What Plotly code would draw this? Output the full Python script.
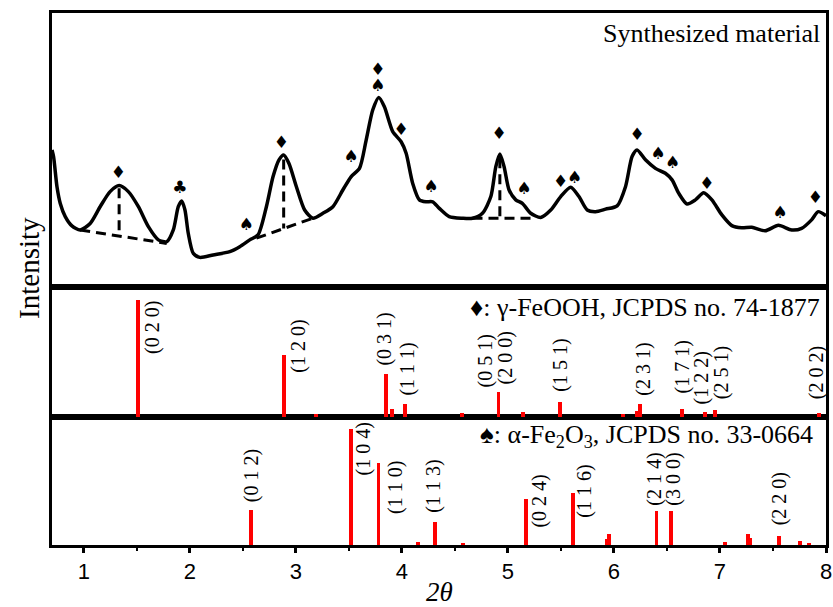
import plotly.graph_objects as go

# ---------------- data ----------------
# Synthesized material XRD pattern (2theta, relative intensity)
xrd_2theta = [0.700, 0.715, 0.747, 0.778, 0.825, 0.888, 0.966, 1.060, 1.154, 1.248,
              1.333, 1.420, 1.515, 1.609, 1.703, 1.782, 1.844, 1.891, 1.923, 1.954,
              1.985, 2.032, 2.095, 2.220, 2.377, 2.471, 2.565, 2.643, 2.722, 2.785,
              2.841, 2.885, 2.935, 3.005, 3.083, 3.161, 3.255, 3.349, 3.443, 3.522,
              3.600, 3.663, 3.725, 3.782, 3.835, 3.914, 3.993, 4.040, 4.102, 4.165,
              4.228, 4.290, 4.353, 4.446, 4.572, 4.666, 4.760, 4.839, 4.886, 4.924,
              4.964, 5.011, 5.074, 5.136, 5.215, 5.309, 5.404, 5.498, 5.592, 5.670,
              5.748, 5.827, 5.921, 6.030, 6.109, 6.171, 6.218, 6.297, 6.391, 6.485,
              6.548, 6.611, 6.689, 6.768, 6.846, 6.924, 7.018, 7.112, 7.206, 7.300,
              7.426, 7.551, 7.676, 7.770, 7.864, 7.927, 8.000]
xrd_intensity = [50.0, 47.5, 36.6, 30.5, 25.7, 22.3, 20.8, 23.2, 29.3, 34.8,
                 37.0, 34.8, 29.3, 22.0, 17.2, 16.5, 20.8, 29.3, 31.4, 28.1,
                 19.6, 12.3, 10.8, 11.7, 12.9, 14.7, 17.2, 19.0, 29.3, 40.3,
                 46.4, 48.2, 45.1, 36.6, 28.1, 25.1, 26.9, 29.3, 35.4, 40.3,
                 43.3, 53.6, 64.6, 69.2, 65.8, 56.7, 53.0, 48.8, 37.8, 31.8,
                 31.1, 31.1, 28.7, 25.7, 25.1, 25.1, 26.9, 33.0, 43.9, 48.5,
                 43.9, 35.4, 31.8, 30.5, 26.9, 25.4, 28.1, 33.0, 36.4, 33.0,
                 28.1, 27.5, 28.4, 29.6, 36.6, 47.6, 50.0, 46.4, 43.3, 41.5,
                 39.1, 34.2, 30.3, 31.8, 34.4, 31.8, 26.3, 22.4, 21.6, 21.8,
                 20.5, 22.5, 20.8, 21.4, 24.5, 27.5, 26.0]

# dashed baseline / peak-height guides
guide1_x = [0.966, 1.782, None, 1.333, 1.333]
guide1_y = [20.8, 15.9, None, 36.0, 18.6]
guide2_x = [2.628, 3.161, None, 2.885, 2.885]
guide2_y = [17.8, 25.1, None, 46.5, 21.3]
guide3_x = [4.666, 5.250, None, 4.924, 4.924]
guide3_y = [25.1, 25.1, None, 47.0, 25.1]

# phase markers over the peaks
mark_symbol = ["♦", "♣", "♠", "♦", "♠", "♦", "♠", "♦", "♠", "♦", "♠", "♦", "♠",
               "♦", "♠", "♠", "♦", "♠", "♦"]
mark_2theta = [1.327, 1.907, 2.534, 2.864, 3.522, 3.773, 3.773, 3.993, 4.275, 4.918,
               5.152, 5.498, 5.630, 6.218, 6.416, 6.554, 6.877, 7.567, 7.900]
mark_height = [41.2, 35.7, 22.3, 52.4, 47.0, 79.0, 73.2, 57.0, 36.4, 55.5,
               35.4, 38.1, 39.4, 55.1, 48.2, 44.8, 37.2, 26.9, 32.1]

# gamma-FeOOH reference, JCPDS 74-1877
feooh_2theta = [1.515, 2.888, 3.193, 3.854, 3.908, 4.033, 4.566, 4.911, 5.146, 5.494,
                6.084, 6.218, 6.250, 6.642, 6.855, 6.949, 7.934]
feooh_intensity = [90.0, 47.7, 2.3, 32.8, 5.9, 9.7, 2.8, 19.0, 4.0, 11.3,
                   2.3, 4.6, 9.7, 6.2, 3.8, 5.4, 2.8]
feooh_hkl = ["(0 2 0)", "(1 2 0)", "(0 3 1)", "(1 1 1)", "(0 5 1)", "(2 0 0)",
             "(1 5 1)", "(2 3 1)", "(1 7 1)", "(1 2 2)", "(2 5 1)", "(2 0 2)"]
feooh_hkl_2theta = [1.515, 2.888, 3.854, 4.033, 4.911, 4.911, 5.494, 6.250, 6.642,
                    6.855, 6.949, 7.934]

# alpha-Fe2O3 reference, JCPDS 33-0664
hem_2theta = [2.581, 3.522, 3.779, 4.149, 4.312, 4.572, 5.168, 5.613, 5.930, 5.950,
              6.401, 6.542, 7.050, 7.263, 7.285, 7.558, 7.756, 7.840]
hem_intensity = [27.3, 91.0, 63.8, 2.1, 17.7, 1.8, 36.0, 40.9, 4.4, 8.6,
                 26.8, 26.8, 2.1, 8.3, 5.2, 7.0, 3.1, 1.3]
hem_hkl = ["(0 1 2)", "(1 0 4)", "(1 1 0)", "(1 1 3)", "(0 2 4)", "(1 1 6)",
           "(2 1 4)", "(3 0 0)", "(2 2 0)"]
hem_hkl_2theta = [2.581, 3.522, 3.779, 4.312, 5.168, 5.613, 6.401, 6.542, 7.558]

x_ticks = [1, 2, 3, 4, 5, 6, 7, 8]

# ---------------- label placement (style, not data) ----------------
# (xshift px, y in panel units, yanchor)
feooh_label_pos = [(14, 90, "top"), (15, 76, "top"), (-2, 38.7, "bottom"),
                   (2, 15.6, "bottom"), (-12.6, 22.3, "bottom"), (7.4, 24.6, "bottom"),
                   (0, 18.5, "bottom"), (3, 15.6, "bottom"), (0, 17, "bottom"),
                   (-2.7, 9.2, "bottom"), (7, 13, "bottom"), (-2.4, 13, "bottom")]
hem_label_pos = [(0, 32.6, "bottom"), (12, 96.3, "top"), (17, 66.4, "top"),
                 (-1, 24.8, "bottom"), (14, 56, "top"), (12, 63.8, "top"),
                 (-2, 29.9, "bottom"), (2, 29.9, "bottom"), (0, 14.3, "bottom")]

SERIF = "Liberation Serif, Times New Roman, serif"
SANS = "Liberation Sans, Arial, sans-serif"
RED = "#ff0000"
FRAME_W = 3

fig = go.Figure()

# top panel
fig.add_trace(go.Scatter(x=xrd_2theta, y=xrd_intensity, mode="lines",
                         line=dict(color="black", width=3.5, shape="spline", smoothing=0.7),
                         xaxis="x3", yaxis="y3", hoverinfo="skip"))
for gx, gy in [(guide1_x, guide1_y), (guide2_x, guide2_y), (guide3_x, guide3_y)]:
    fig.add_trace(go.Scatter(x=gx, y=gy, mode="lines",
                             line=dict(color="black", width=3, dash="10px,6px"),
                             xaxis="x3", yaxis="y3", hoverinfo="skip"))
fig.add_trace(go.Scatter(x=mark_2theta, y=mark_height, mode="text", text=mark_symbol,
                         textposition="middle center",
                         textfont=dict(family="DejaVu Sans", size=17, color="black"),
                         xaxis="x3", yaxis="y3", hoverinfo="skip"))

# middle panel
fig.add_trace(go.Bar(x=feooh_2theta, y=feooh_intensity, width=0.037,
                     marker=dict(color=RED, line=dict(width=0)),
                     xaxis="x2", yaxis="y2", hoverinfo="skip"))
# bottom panel
fig.add_trace(go.Bar(x=hem_2theta, y=hem_intensity, width=0.037,
                     marker=dict(color=RED, line=dict(width=0)),
                     xaxis="x", yaxis="y", hoverinfo="skip"))

annotations = []
for txt, xv, (dx, yv, ya) in zip(feooh_hkl, feooh_hkl_2theta, feooh_label_pos):
    annotations.append(dict(text=txt, x=xv, y=yv, xref="x2", yref="y2", xshift=dx,
                            xanchor="center", yanchor=ya, textangle=-90, showarrow=False,
                            font=dict(family=SERIF, size=20, color="black"), borderpad=0))
for txt, xv, (dx, yv, ya) in zip(hem_hkl, hem_hkl_2theta, hem_label_pos):
    annotations.append(dict(text=txt, x=xv, y=yv, xref="x", yref="y", xshift=dx,
                            xanchor="center", yanchor=ya, textangle=-90, showarrow=False,
                            font=dict(family=SERIF, size=20, color="black"), borderpad=0))

annotations += [
    dict(text="Synthesized material", x=0.9944, y=0.962, xref="paper", yref="paper",
         xanchor="right", yanchor="middle", showarrow=False,
         font=dict(family=SERIF, size=26, color="black")),
    dict(text="♦: γ-FeOOH, JCPDS no. 74-1877", x=0.9944, y=0.447, xref="paper", yref="paper",
         xanchor="right", yanchor="middle", showarrow=False,
         font=dict(family=SERIF, size=26, color="black")),
    dict(text="♠: α-Fe<sub>2</sub>O<sub>3</sub>, JCPDS no. 33-0664", x=0.9858, y=0.204,
         xref="paper", yref="paper", xanchor="right", yanchor="middle", showarrow=False,
         font=dict(family=SERIF, size=26, color="black")),
    dict(text="Intensity", x=-0.029, y=0.52, xref="paper", yref="paper",
         xanchor="center", yanchor="middle", textangle=-90, showarrow=False,
         font=dict(family=SERIF, size=29, color="black")),
    dict(text="<i>2θ</i>", x=0.5, y=-0.088, xref="paper", yref="paper",
         xanchor="center", yanchor="middle", showarrow=False,
         font=dict(family=SERIF, size=27, color="black")),
]

frame = dict(showline=True, linecolor="black", linewidth=FRAME_W, mirror=True,
             showgrid=False, zeroline=False, automargin=False)
xr = [0.70, 8.0]

fig.update_layout(
    width=833, height=607,
    margin=dict(l=52, r=7, t=13, b=62, autoexpand=False),
    paper_bgcolor="white", plot_bgcolor="white",
    showlegend=False, bargap=0,
    annotations=annotations,
    xaxis=dict(**frame, range=xr, domain=[0, 1], anchor="y",
               tickvals=x_ticks, ticks="outside", ticklen=5, tickwidth=2.5,
               tickcolor="black",
               tickfont=dict(family=SANS, size=22, color="black"),
               minor=dict(dtick=0.5, tick0=0, ticks="outside", ticklen=3,
                          tickwidth=2, tickcolor="black")),
    yaxis=dict(**frame, range=[0, 100], domain=[0, 0.2406], anchor="x",
               showticklabels=False, ticks=""),
    xaxis2=dict(**frame, range=xr, domain=[0, 1], anchor="y2", matches="x",
                showticklabels=False, ticks=""),
    yaxis2=dict(**frame, range=[0, 100], domain=[0.2406, 0.485], anchor="x2",
                showticklabels=False, ticks=""),
    xaxis3=dict(**frame, range=xr, domain=[0, 1], anchor="y3", matches="x",
                showticklabels=False, ticks=""),
    yaxis3=dict(**frame, range=[0, 100], domain=[0.485, 1], anchor="x3",
                showticklabels=False, ticks=""),
)

fig.write_html("out.html")
